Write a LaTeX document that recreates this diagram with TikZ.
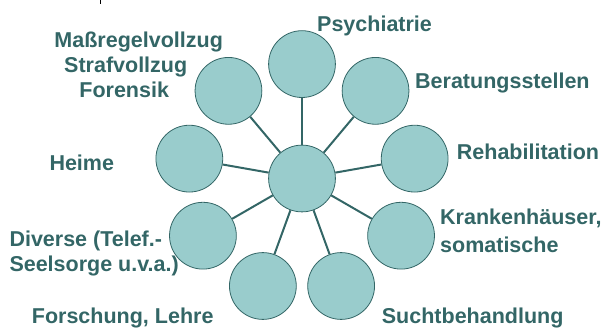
\documentclass[tikz,border=0pt]{standalone}
\usepackage{fontspec}
\setmainfont{Liberation Sans}
\usetikzlibrary{positioning}
\definecolor{tealfill}{HTML}{99CCCC}
\definecolor{tealdark}{HTML}{336666}

\begin{document}
\begin{tikzpicture}[x=1pt, y=1pt,
  blob/.style={circle, draw=tealdark, line width=0.8pt, fill=tealfill,
    minimum size=66.8pt, inner sep=0pt},
  spoke/.style={draw=tealdark, line width=2pt},
  lbl/.style={text=tealdark, inner sep=0pt,
    font=\bfseries\fontsize{21.5}{25}\selectfont}]
  \useasboundingbox (0,0) rectangle (608,329);
  % cut-off mark at the top edge
  \draw[line width=1.5pt] (100.7,329) -- (100.7,324.5);

  \node[blob] (hub) at (302,150.5) {};
  \foreach \name/\ang in {psy/90, ber/50, reha/10, kh/-30, sucht/-70,
                          fo/-110, div/-150, heim/170, mrv/130}{
    \node[blob] (\name) at ([shift={(\ang:114.4)}]hub.center) {};
    \draw[spoke] (hub) -- (\name);
  }

  % multi-line labels: base = last line
  \node[lbl, anchor=base west] (tpsy) at (317,297.3) {Psychiatrie};
  \node[lbl, anchor=base west] (tber) at (415,240.7) {Beratungsstellen};
  \node[lbl, anchor=base west] (treha) at (456.7,169.7) {Rehabilitation};
  \node[lbl, anchor=base west, align=left,
    font=\bfseries\fontsize{21.5}{27.7}\selectfont] (tkh) at (440,76.3)
    {Krankenhäuser,\\somatische};
  \node[lbl, anchor=base west] (tsucht) at (381.7,5.7) {Suchtbehandlung};
  \node[lbl, anchor=base west] (tfo) at (31.7,5.7) {Forschung, Lehre};
  \node[lbl, anchor=base west, align=left] (tdiv) at (9.3,57.3)
    {Diverse (Telef.-\\Seelsorge u.v.a.)};
  \node[lbl, anchor=base west] (theim) at (49.3,158) {Heime};
  \node[lbl, anchor=base, align=center] (tmrv) at (138.7,231.7)
    {Maßregelvollzug\\Strafvollzug\rule{26pt}{0pt}\\Forensik\rule{29pt}{0pt}};
\end{tikzpicture}
\end{document}
